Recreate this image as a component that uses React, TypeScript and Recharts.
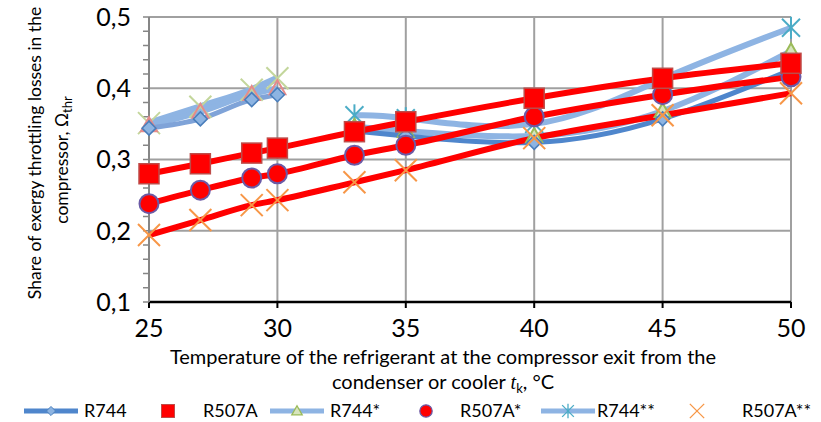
import React from 'react';
import { LineChart, Line, XAxis, YAxis, CartesianGrid, Legend } from 'recharts';

// temperatures (°C)
const tempsLow = [25, 27, 29, 30];
const tempsHigh = [33, 35, 40, 45, 50];
const tempsAll = [25, 27, 29, 30, 33, 35, 40, 45, 50];

// R744 branches: left cluster (25–30) and right cluster (33–50)
const r744Low = [0.344, 0.357, 0.384, 0.391];
const r744StarLow = [0.348, 0.367, 0.392, 0.4];
const r744Star2Low = [0.351, 0.374, 0.398, 0.414];
const r744High = [0.34, 0.333, 0.324, 0.357, 0.426];
const r744StarHigh = [0.346, 0.34, 0.333, 0.368, 0.452];
const r744Star2High = [0.362, 0.358, 0.35, 0.413, 0.485];

// R507A over the whole range
const r507a = [0.28, 0.294, 0.309, 0.316, 0.339, 0.353, 0.386, 0.414, 0.435];
const r507aStar = [0.238, 0.257, 0.274, 0.28, 0.306, 0.32, 0.36, 0.391, 0.416];
const r507aStar2 = [0.194, 0.215, 0.236, 0.243, 0.268, 0.285, 0.33, 0.362, 0.393];

const xTicks = [25, 30, 35, 40, 45, 50];
const yMajor = [0.1, 0.2, 0.3, 0.4, 0.5];
const yTicks = [0.1, 0.12, 0.14, 0.16, 0.18, 0.2, 0.22, 0.24, 0.26, 0.28, 0.3, 0.32, 0.34, 0.36, 0.38, 0.4, 0.42, 0.44, 0.46, 0.48, 0.5];

const legendNames = ['R744', 'R507A', 'R744*', 'R507A*', 'R744**', 'R507A**'];

const toRows = (xs: number[], ys: number[]) => xs.map((t, i) => ({ t, v: ys[i] }));

const FONT = 'Lato, "Open Sans", sans-serif';

type Shape = 'diamond' | 'triangle' | 'triangleLow' | 'star' | 'square' | 'circle' | 'cross' | 'crossLow';

const Marker = ({ shape, cx, cy }: { shape: Shape; cx: number; cy: number }) => {
  switch (shape) {
    case 'diamond':
      return <polygon points={`${cx},${cy - 7} ${cx + 7},${cy} ${cx},${cy + 7} ${cx - 7},${cy}`} fill="#8db4e2" stroke="#4a7ebb" strokeWidth={1.5} />;
    case 'triangle':
      return <polygon points={`${cx},${cy - 8} ${cx + 8},${cy + 6} ${cx - 8},${cy + 6}`} fill="#d7e4bd" stroke="#9bbb59" strokeWidth={2} />;
    case 'triangleLow':
      return <polygon points={`${cx},${cy - 8} ${cx + 8},${cy + 6} ${cx - 8},${cy + 6}`} fill="none" stroke="#e68a8a" strokeWidth={2} />;
    case 'star':
      return (
        <g stroke="#4bacc6" strokeWidth={2}>
          <line x1={cx - 9} y1={cy - 9} x2={cx + 9} y2={cy + 9} />
          <line x1={cx - 9} y1={cy + 9} x2={cx + 9} y2={cy - 9} />
          <line x1={cx} y1={cy - 11} x2={cx} y2={cy + 11} />
        </g>
      );
    case 'square':
      return <rect x={cx - 10} y={cy - 10} width={20} height={20} fill="#ff0000" stroke="#be4b48" strokeWidth={1.5} />;
    case 'circle':
      return <circle cx={cx} cy={cy} r={9.5} fill="#ff0000" stroke="#6b5aa6" strokeWidth={2} />;
    case 'cross':
      return (
        <g stroke="#f79646" strokeWidth={2}>
          <line x1={cx - 11} y1={cy - 11} x2={cx + 11} y2={cy + 11} />
          <line x1={cx - 11} y1={cy + 11} x2={cx + 11} y2={cy - 11} />
        </g>
      );
    case 'crossLow':
      return (
        <g stroke="#c3d69b" strokeWidth={2}>
          <line x1={cx - 11} y1={cy - 11} x2={cx + 11} y2={cy + 11} />
          <line x1={cx - 11} y1={cy + 11} x2={cx + 11} y2={cy - 11} />
        </g>
      );
  }
  return null;
};

const dot = (shape: Shape) => (props: any) => {
  const { cx, cy, index } = props;
  if (cx == null || cy == null) return <g key={`${shape}-${index}`} />;
  return (
    <g key={`${shape}-${index}`}>
      <Marker shape={shape} cx={cx} cy={cy} />
    </g>
  );
};

const fmtY = (v: number) => (Math.round(v * 100) % 10 === 0 ? v.toFixed(1).replace('.', ',') : '');

const YTitle = () => (
  <g fontFamily={FONT} fontSize={17.5} fill="#000">
    <text transform="translate(41,153) rotate(-90)" textAnchor="middle">Share of exergy throttling losses in the</text>
    <text transform="translate(68,160) rotate(-90)" textAnchor="middle">
      compressor,  Ω<tspan fontSize={13} dy={4}>thr</tspan>
    </text>
  </g>
);

const XTitle = () => (
  <g fontFamily={FONT} fontSize={20} fill="#000">
    <text x={443} y={364} textAnchor="middle">Temperature of the refrigerant at the compressor exit from the</text>
    <text x={443} y={389} textAnchor="middle">
      condenser or cooler <tspan fontStyle="italic" fontFamily="'Liberation Serif', serif">t</tspan>
      <tspan fontSize={13} dy={4}>k</tspan>
      <tspan dy={-4}>, °C</tspan>
    </text>
  </g>
);

// legend icon layout: [icon centre, text start]
const legendIconX = [51, 168, 297, 426, 568, 697];
const legendTextX = [84, 203, 330, 460, 597, 742];
const legendShapes: Shape[] = ['diamond', 'square', 'triangle', 'circle', 'star', 'cross'];
const legendLines = ['#4f86cc', '', '#8eb4e3', '', '#8eb4e3', ''];

const renderLegend = () => (
  <svg width={821} height={24} style={{ display: 'block' }}>
    {legendNames.map((name, i) => (
      <g key={name}>
        {legendLines[i] && (
          <line x1={legendIconX[i] - 27} x2={legendIconX[i] + 27} y1={12} y2={12} stroke={legendLines[i]} strokeWidth={5} />
        )}
        <g transform={`translate(${legendIconX[i]},12) scale(0.65) translate(${-legendIconX[i]},-12)`}>
          <Marker shape={legendShapes[i]} cx={legendIconX[i]} cy={12} />
        </g>
        <text x={legendTextX[i]} y={18} fontFamily={FONT} fontSize={18} fill="#000">{name}</text>
      </g>
    ))}
  </svg>
);

export default function App() {
  return (
    <div style={{ position: 'absolute', left: 0, top: 0, width: 821, height: 422, background: '#fff' }}>
      <LineChart width={821} height={422} margin={{ top: 17, right: 30, bottom: 90, left: 0 }}>
        <CartesianGrid horizontalValues={yMajor} verticalValues={xTicks} stroke="#a0a0a0" strokeWidth={2} />
        <XAxis
          dataKey="t"
          type="number"
          domain={[25, 50]}
          ticks={xTicks}
          allowDuplicatedCategory={false}
          height={30}
          axisLine={{ stroke: '#000', strokeWidth: 2.5 }}
          tickLine={{ stroke: '#000', strokeWidth: 2 }}
          tickSize={6}
          tickMargin={11}
          tick={{ fontFamily: FONT, fontSize: 25, fill: '#000' }}
          label={{ content: () => <XTitle /> }}
        />
        <YAxis
          type="number"
          domain={[0.1, 0.5]}
          ticks={yTicks}
          interval={0}
          width={149}
          axisLine={{ stroke: '#868686', strokeWidth: 2 }}
          tickLine={{ stroke: '#868686', strokeWidth: 1.5 }}
          tickSize={6}
          tickMargin={12}
          tickFormatter={fmtY}
          tick={{ fontFamily: FONT, fontSize: 25, fill: '#000' }}
          label={{ content: () => <YTitle /> }}
        />
        <Legend verticalAlign="middle" content={renderLegend} wrapperStyle={{ top: 399, left: 0, width: 821, height: 24 }} />

        <Line data={toRows(tempsLow, r744Star2Low)} dataKey="v" name="R744** low" type="monotone" stroke="#8eb4e3" strokeWidth={7} dot={dot('crossLow')} legendType="none" isAnimationActive={false} />
        <Line data={toRows(tempsLow, r744StarLow)} dataKey="v" name="R744* low" type="monotone" stroke="#8eb4e3" strokeWidth={6} dot={dot('triangleLow')} legendType="none" isAnimationActive={false} />
        <Line data={toRows(tempsLow, r744Low)} dataKey="v" name="R744 low" type="monotone" stroke="#7fa3d8" strokeWidth={5} dot={dot('diamond')} legendType="none" isAnimationActive={false} />

        <Line data={toRows(tempsHigh, r744Star2High)} dataKey="v" name="R744**" type="natural" stroke="#8eb4e3" strokeWidth={6} dot={dot('star')} isAnimationActive={false} />
        <Line data={toRows(tempsHigh, r744StarHigh)} dataKey="v" name="R744*" type="natural" stroke="#8eb4e3" strokeWidth={6} dot={dot('triangle')} isAnimationActive={false} />
        <Line data={toRows(tempsHigh, r744High)} dataKey="v" name="R744" type="natural" stroke="#4f86cc" strokeWidth={5} dot={dot('diamond')} isAnimationActive={false} />

        <Line data={toRows(tempsAll, r507aStar2)} dataKey="v" name="R507A**" type="monotone" stroke="#ff0000" strokeWidth={6} dot={dot('cross')} isAnimationActive={false} />
        <Line data={toRows(tempsAll, r507aStar)} dataKey="v" name="R507A*" type="monotone" stroke="#ff0000" strokeWidth={6} dot={dot('circle')} isAnimationActive={false} />
        <Line data={toRows(tempsAll, r507a)} dataKey="v" name="R507A" type="monotone" stroke="#ff0000" strokeWidth={6} dot={dot('square')} isAnimationActive={false} />
      </LineChart>
    </div>
  );
}
